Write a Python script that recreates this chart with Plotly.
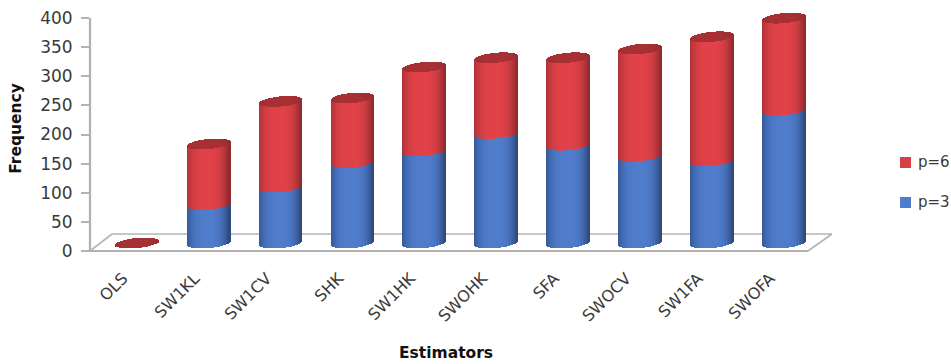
import math
import plotly.graph_objects as go

categories = ["OLS", "SW1KL", "SW1CV", "SHK", "SW1HK", "SWOHK", "SFA", "SWOCV", "SW1FA", "SWOFA"]
p3_values = [0, 66, 96, 138, 158, 188, 168, 149, 141, 228]
p6_values = [0, 104, 147, 111, 144, 130, 150, 184, 213, 158]
y_ticks = [0, 50, 100, 150, 200, 250, 300, 350, 400]

W, H = 951, 364
L, R, T, B = 90, 832, 18, 251
TOP_ROOM = 6              # plot area reaches above the 400 tick, so the tallest cap is not cut
PX_X = 71.9
X0 = 137
PX_Y = (B - T) / 400.0
LIFT = 8 / PX_Y           # cylinders stand on the floor, above the axis zero
HALF = 21.3 / PX_X
MINOR = 5.0 / PX_Y
TILT = 2.0 / PX_Y
N = 43
STRIP = 1.7 / PX_X
LABEL_SHIFT = 14 / PX_X


def mix(a, b, t):
    return tuple(a[i] + (b[i] - a[i]) * t for i in range(3))


def shade(u, mid, dark, left):
    if u >= 0:
        c = mix(mid, dark, min(1, u ** 3))
    else:
        c = mix(mid, left, min(1, abs(u) ** 3))
    return "rgb(%d,%d,%d)" % tuple(round(v) for v in c)


def strips(bottoms, tops, colour, front_top=False):
    xs, base, height, cols = [], [], [], []
    for i, (lo, hi) in enumerate(zip(bottoms, tops)):
        for k in range(N):
            u = -1 + 2 * (k + 0.5) / N
            r = math.sqrt(1 - u * u) * MINOR
            low = lo + LIFT + TILT * u - r
            high = hi + LIFT + TILT * u + (r if front_top else 0)
            xs.append(i + HALF * u)
            base.append(low)
            height.append(high - low)
            cols.append(colour(u))
    return xs, base, height, cols


BLUE = dict(mid=(80, 124, 204), dark=(44, 70, 120), left=(52, 88, 150))
RED = dict(mid=(224, 66, 72), dark=(140, 40, 44), left=(176, 50, 56))
CAP = dict(mid=(168, 48, 52), dark=(150, 44, 48), left=(158, 46, 50))

totals = [a + b for a, b in zip(p3_values, p6_values)]
positions = list(range(len(categories)))
zeros = [0] * len(categories)

fig = go.Figure()


def add_strips(bottoms, tops, pal, name, **kw):
    xs, base, height, cols = strips(bottoms, tops, lambda u: shade(u, **pal), **kw)
    fig.add_trace(go.Bar(x=xs, y=height, base=base, width=STRIP, name=name,
                         showlegend=False, cliponaxis=False, hoverinfo="skip",
                         marker=dict(color=cols, line=dict(width=0))))


add_strips(zeros, p3_values, BLUE, "p=3")
add_strips(p3_values, totals, RED, "p=6")
add_strips(totals, totals, CAP, "p=6 top", front_top=True)

line = dict(color="#B4B4B4", width=1.6)
front = dict(color="#B0B0B0", width=2.2)


def px(x):
    return (x - L) / (R - L)


def py(y):
    return (B - y) / (B - TOP_ROOM)


shapes = [
    dict(type="path", xref="paper", yref="paper", layer="below", line=dict(width=0), fillcolor="#FFFFFF",
         path=f"M {px(90)} {py(251)} L {px(112)} {py(234)} L {px(832)} {py(234)} L {px(808)} {py(251)} Z"),
    dict(type="line", xref="paper", yref="paper", layer="below", line=line,
         x0=px(112), y0=py(234), x1=px(832), y1=py(234)),
    dict(type="line", xref="paper", yref="paper", layer="below", line=line,
         x0=px(90), y0=py(251), x1=px(112), y1=py(234)),
    dict(type="line", xref="paper", yref="paper", layer="below", line=line,
         x0=px(808), y0=py(251), x1=px(832), y1=py(234)),
    dict(type="line", xref="paper", yref="paper", layer="below", line=front,
         x0=px(88), y0=py(251), x1=px(808), y1=py(251)),
    dict(type="line", xref="paper", yref="paper", layer="below", line=front,
         x0=px(90), y0=py(T), x1=px(90), y1=py(251)),
    dict(type="rect", xref="paper", yref="paper", line=dict(width=0), fillcolor="#D63F47",
         x0=px(900), x1=px(911), y0=py(168), y1=py(157)),
    dict(type="rect", xref="paper", yref="paper", line=dict(width=0), fillcolor="#4F7CCC",
         x0=px(900), x1=px(911), y0=py(208), y1=py(197)),
]

FONT = "DejaVu Sans"
legend_notes = [
    dict(text=t, xref="paper", yref="paper", x=px(916), y=py(yc), xanchor="left", yanchor="middle",
         showarrow=False, font=dict(size=15, color="#3A3A3A"))
    for t, yc in [("p=6", 162), ("p=3", 202)]
]
fig.update_layout(
    width=W, height=H,
    margin=dict(l=L, r=W - R, t=TOP_ROOM, b=H - B, pad=0),
    paper_bgcolor="white", plot_bgcolor="rgba(0,0,0,0)",
    barmode="overlay", bargap=0, showlegend=False,
    font=dict(family=FONT, size=15, color="#3A3A3A"),
    shapes=shapes,
    xaxis=dict(range=[(L - X0) / PX_X, (R - X0) / PX_X], tickmode="array",
               tickvals=[p - LABEL_SHIFT for p in positions],
               ticktext=categories, tickangle=-45, ticks="", showgrid=False, zeroline=False,
               showline=False, automargin=False, tickfont=dict(size=16, color="#3A3A3A"),
               ticklabelstandoff=14),
    yaxis=dict(range=[0, (B - TOP_ROOM) / PX_Y], tickmode="array", tickvals=y_ticks, ticks="outside",
               ticklen=8, tickcolor="#B4B4B4", tickwidth=1.5, showgrid=False, zeroline=False,
               showline=False, automargin=False,
               tickfont=dict(size=17, color="#3A3A3A"), ticklabelstandoff=5,
               title=dict(text="<b>Frequency</b>", font=dict(size=15.5, color="#111111"), standoff=14)),
    annotations=legend_notes + [
        dict(text="<b>Estimators</b>", xref="paper", yref="paper", x=px(446), y=py(353),
             yanchor="middle", showarrow=False, font=dict(size=15.5, color="#111111"))],
)
fig.write_html("out.html", config={"displayModeBar": False},
               post_script="document.body.style.margin='0';")
